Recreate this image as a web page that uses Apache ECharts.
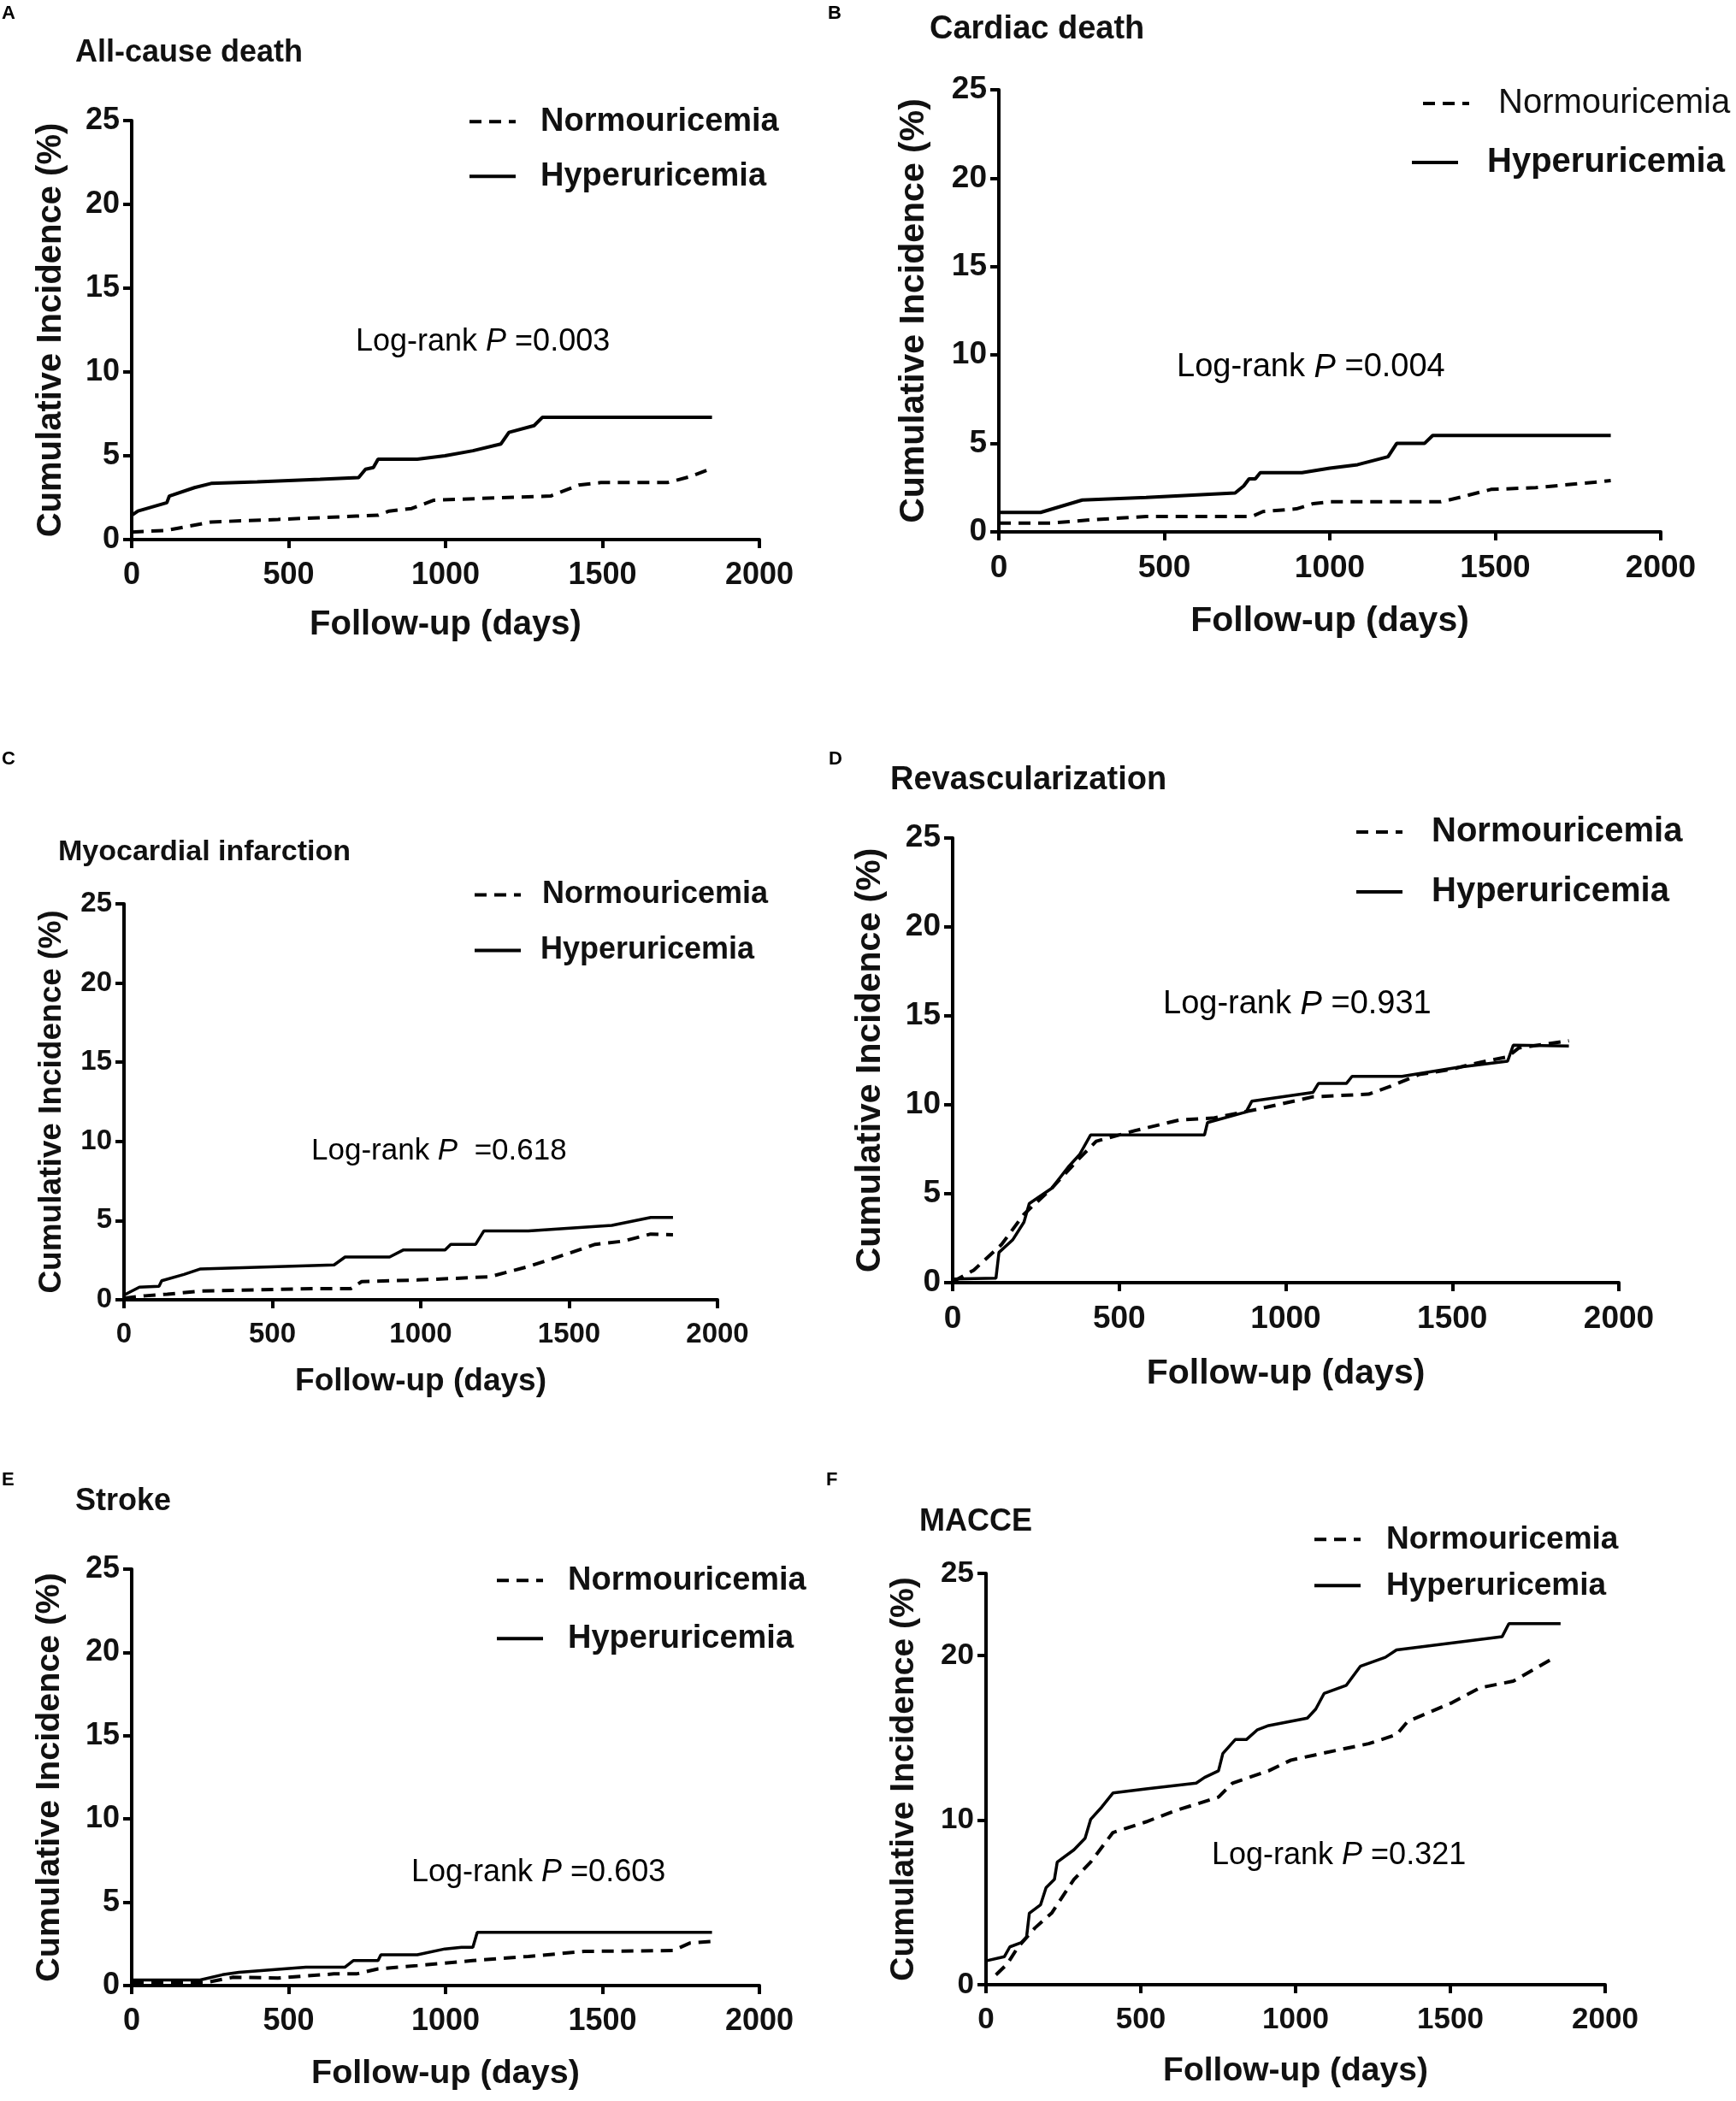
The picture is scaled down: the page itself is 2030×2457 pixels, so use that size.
<!DOCTYPE html>
<html>
<head>
<meta charset="utf-8">
<title>Cumulative incidence by uric acid group</title>
<script src="https://cdn.jsdelivr.net/npm/echarts@6/dist/echarts.min.js"></script>
<style>
  html, body { margin: 0; padding: 0; background: #fff; }
  #main { width: 2030px; height: 2457px; }
</style>
</head>
<body>
<div id="main"></div>
<script>
// 数据：[天数, 累计发生率 %]
const seriesNames = ['Normouricemia', 'Hyperuricemia'];
const xTicks = [0, 500, 1000, 1500, 2000];
const yTicks = [0, 5, 10, 15, 20, 25];
const yTicksMacce = [0, 10, 20, 25];

const allCauseNormo = [[0,0.45],[112,0.55],[253,1.05],[466,1.2],[715,1.4],[785,1.45],[820,1.7],[892,1.85],[963,2.35],[1176,2.5],[1335,2.6],[1424,3.25],[1495,3.4],[1707,3.4],[1778,3.75],[1849,4.25]];
const allCauseHyper = [[0,1.45],[20,1.7],[112,2.2],[120,2.6],[200,3.1],[253,3.35],[400,3.45],[600,3.6],[723,3.7],[745,4.2],[770,4.3],[785,4.8],[910,4.8],[998,5.0],[1087,5.3],[1176,5.7],[1202,6.4],[1282,6.8],[1309,7.3],[1849,7.3]];

const cardiacNormo = [[0,0.5],[160,0.5],[277,0.68],[445,0.87],[765,0.87],[798,1.15],[899,1.3],[950,1.6],[1000,1.7],[1336,1.7],[1403,2.0],[1487,2.4],[1622,2.5],[1824,2.85],[1849,2.9]];
const cardiacHyper = [[0,1.1],[126,1.1],[252,1.8],[445,1.95],[714,2.2],[740,2.6],[756,3.0],[775,3.0],[790,3.35],[916,3.35],[1000,3.6],[1084,3.8],[1176,4.25],[1202,5.0],[1286,5.0],[1311,5.45],[1849,5.45]];

const miNormo = [[0,0.1],[71,0.25],[146,0.35],[258,0.55],[633,0.7],[764,0.7],[801,1.15],[989,1.25],[1232,1.45],[1363,2.1],[1494,2.9],[1588,3.5],[1682,3.7],[1775,4.15],[1850,4.1]];
const miHyper = [[0,0.3],[52,0.8],[118,0.85],[127,1.2],[202,1.6],[258,1.95],[708,2.2],[745,2.7],[895,2.7],[942,3.15],[1082,3.15],[1101,3.5],[1185,3.5],[1213,4.35],[1363,4.35],[1644,4.7],[1775,5.2],[1850,5.2]];

const revascNormo = [[0,0.05],[63,0.7],[147,2.15],[214,3.85],[297,5.3],[381,7.0],[431,7.95],[548,8.55],[681,9.15],[781,9.25],[915,9.75],[1082,10.45],[1249,10.6],[1316,11.05],[1400,11.7],[1500,12.0],[1549,12.25],[1666,12.7],[1700,13.2],[1850,13.6]];
const revascHyper = [[0,0.2],[130,0.25],[139,1.7],[180,2.4],[214,3.4],[230,4.45],[297,5.3],[347,6.5],[381,7.2],[414,8.3],[756,8.3],[765,9.0],[881,9.6],[898,10.2],[1082,10.7],[1098,11.2],[1182,11.2],[1199,11.6],[1349,11.6],[1516,12.1],[1666,12.45],[1683,13.35],[1850,13.3]];

const strokeNormo = [[0,0.18],[236,0.18],[324,0.5],[466,0.45],[644,0.7],[716,0.7],[785,1.0],[910,1.2],[1087,1.5],[1264,1.75],[1442,2.05],[1725,2.1],[1778,2.55],[1849,2.65]];
const strokeHyper = [[0,0.33],[218,0.33],[289,0.65],[342,0.8],[555,1.1],[679,1.1],[706,1.5],[785,1.5],[794,1.85],[910,1.85],[998,2.2],[1051,2.3],[1087,2.3],[1101,3.2],[1849,3.2]];

const macceNormo = [[32,0.6],[68,1.25],[104,2.3],[158,3.45],[212,4.35],[284,6.4],[338,7.45],[410,9.25],[517,9.9],[607,10.55],[751,11.4],[796,12.25],[913,13.0],[985,13.65],[1146,14.3],[1236,14.65],[1326,15.2],[1362,16.0],[1506,17.15],[1596,18.05],[1703,18.45],[1838,19.9]];
const macceHyper = [[0,1.45],[59,1.7],[77,2.3],[113,2.55],[131,2.9],[140,4.35],[176,4.85],[194,5.9],[221,6.4],[230,7.45],[284,8.2],[320,8.9],[338,10.05],[374,10.8],[410,11.65],[517,11.9],[679,12.25],[706,12.6],[751,13.0],[765,14.05],[805,14.9],[841,14.9],[877,15.5],[913,15.75],[1038,16.2],[1065,16.75],[1092,17.7],[1164,18.2],[1209,19.35],[1290,19.9],[1326,20.35],[1667,21.15],[1689,21.95],[1856,21.95]];

const FONT = "'Liberation Sans', Arial, Helvetica, sans-serif";

// 每个子图的版式
const panels = [
  { letter: 'A', title: 'All-cause death', p: '0.003', normo: allCauseNormo, hyper: allCauseHyper,
    grid: { left: 154, top: 141, width: 734, height: 490 }, tick: 36, name: 40, yGap: 74, xGap: 80,
    letterPos: [2, 16], titlePos: [88, 62, 36], pPos: [416, 400, 36],
    leg: [[547, 146, 630, 'bold'], [547, 210, 630, 'bold']], legSize: 38, width: 4 },
  { letter: 'B', title: 'Cardiac death', p: '0.004', normo: cardiacNormo, hyper: cardiacHyper,
    grid: { left: 1168, top: 105, width: 774, height: 517 }, tick: 37, name: 41, yGap: 79, xGap: 84,
    letterPos: [968, 16], titlePos: [1087, 35, 38], pPos: [1376, 430, 38],
    leg: [[1662, 125, 1750, 'normal'], [1649, 194, 1737, 'bold']], legSize: 40, width: 4 },
  { letter: 'C', title: 'Myocardial infarction', p: '0.618', pSpace: '  ', normo: miNormo, hyper: miHyper,
    grid: { left: 145, top: 1057, width: 694, height: 463 }, tick: 33, name: 37, yGap: 66, xGap: 77,
    letterPos: [2, 888], titlePos: [68, 997, 34], pPos: [364, 1346, 35],
    leg: [[553, 1050, 632, 'bold'], [553, 1115, 630, 'bold']], legSize: 36, width: 3.5 },
  { letter: 'D', title: 'Revascularization', p: '0.931', normo: revascNormo, hyper: revascHyper,
    grid: { left: 1114, top: 980, width: 779, height: 520 }, tick: 37, name: 41, yGap: 76, xGap: 86,
    letterPos: [969, 888], titlePos: [1041, 913, 38], pPos: [1360, 1175, 38],
    leg: [[1584, 977, 1672, 'bold'], [1584, 1047, 1672, 'bold']], legSize: 40, width: 3.5 },
  { letter: 'E', title: 'Stroke', p: '0.603', normo: strokeNormo, hyper: strokeHyper,
    grid: { left: 154, top: 1835, width: 734, height: 487 }, tick: 36, name: 39.5, yGap: 76, xGap: 83,
    letterPos: [2, 1731], titlePos: [88, 1756, 36], pPos: [481, 2190, 36],
    leg: [[579, 1852, 662, 'bold'], [579, 1920, 662, 'bold']], legSize: 38, width: 3.5 },
  { letter: 'F', title: 'MACCE', p: '0.321', normo: macceNormo, hyper: macceHyper, yValues: yTicksMacce,
    grid: { left: 1153, top: 1840, width: 724, height: 481 }, tick: 35, name: 39, yGap: 76, xGap: 82,
    letterPos: [966, 1731], titlePos: [1075, 1780, 36], pPos: [1417, 2170, 36],
    leg: [[1535, 1804, 1619, 'bold'], [1535, 1858, 1619, 'bold']], legSize: 37, width: 3.5 }
];

const DASH = [14, 9];
const grids = [], xAxes = [], yAxes = [], series = [], legends = [], graphics = [];

panels.forEach(function (pn, i) {
  grids.push(pn.grid);
  const axisCommon = {
    axisLine: { lineStyle: { color: '#000', width: 4 } },
    splitLine: { show: false },
    nameLocation: 'middle',
    nameTextStyle: { fontFamily: FONT, fontWeight: 'bold', fontSize: pn.name, color: '#111' }
  };
  xAxes.push(Object.assign({}, axisCommon, {
    gridIndex: i, type: 'value', min: 0, max: 2000, interval: 500,
    name: 'Follow-up (days)', nameGap: pn.xGap,
    axisTick: { show: true, length: 10, customValues: xTicks, lineStyle: { color: '#000', width: 4 } },
    axisLabel: { fontFamily: FONT, fontWeight: 'bold', fontSize: pn.tick, color: '#111', margin: 24,
      customValues: xTicks, formatter: function (v) { return String(v); } }
  }));
  const yVals = pn.yValues || yTicks;
  yAxes.push(Object.assign({}, axisCommon, {
    gridIndex: i, type: 'value', min: 0, max: 25, interval: 5,
    name: 'Cumulative Incidence (%)', nameGap: pn.yGap, nameRotate: 90,
    axisTick: { show: true, length: 10, customValues: yVals, lineStyle: { color: '#000', width: 4 } },
    axisLabel: { fontFamily: FONT, fontWeight: 'bold', fontSize: pn.tick, color: '#111', margin: 14,
      customValues: yVals, formatter: function (v) { return String(v); } }
  }));

  [pn.normo, pn.hyper].forEach(function (d, k) {
    series.push({
      name: seriesNames[k], type: 'line', xAxisIndex: i, yAxisIndex: i,
      data: d, symbol: 'none', showSymbol: false, smooth: false,
      lineStyle: { color: '#000', width: k === 0 ? 4 : pn.width, type: k === 0 ? DASH : 'solid' },
      itemStyle: { color: '#000' },
      animation: false
    });
  });

  // 图例：每个条目单独定位，只画线不画点
  pn.leg.forEach(function (lg, k) {
    legends.push({
      data: [{ name: seriesNames[k], textStyle: { fontWeight: lg[3] } }],
      left: lg[0], top: lg[1] - pn.legSize * 0.6, padding: 0,
      itemWidth: 54, itemHeight: 14, selectedMode: false,
      itemStyle: { opacity: 0 },
      lineStyle: { width: 4 },
      textStyle: { fontFamily: FONT, fontSize: pn.legSize, color: '#111',
        padding: [0, 0, 0, lg[2] - lg[0] - 54 - 5] }
    });
  });

  graphics.push({
    type: 'text', x: pn.letterPos[0], y: pn.letterPos[1],
    style: { text: pn.letter, font: 'bold 22px ' + FONT, fill: '#000', verticalAlign: 'middle' }
  });
  graphics.push({
    type: 'text', x: pn.titlePos[0], y: pn.titlePos[1],
    style: { text: pn.title, font: 'bold ' + pn.titlePos[2] + 'px ' + FONT, fill: '#111', verticalAlign: 'middle' }
  });
  graphics.push({
    type: 'text', x: pn.pPos[0], y: pn.pPos[1],
    style: {
      text: '{a|Log-rank }{b|P}{a|' + (pn.pSpace || ' ') + '=' + pn.p + '}',
      verticalAlign: 'middle',
      rich: {
        a: { fontFamily: FONT, fontSize: pn.pPos[2], color: '#222' },
        b: { fontFamily: FONT, fontSize: pn.pPos[2], fontStyle: 'italic', color: '#222' }
      }
    }
  });
});

var chart = echarts.init(document.getElementById('main'), null, { renderer: 'canvas' });
chart.setOption({
  backgroundColor: '#fff',
  animation: false,
  grid: grids,
  xAxis: xAxes,
  yAxis: yAxes,
  legend: legends,
  series: series,
  graphic: graphics
});
</script>
</body>
</html>
